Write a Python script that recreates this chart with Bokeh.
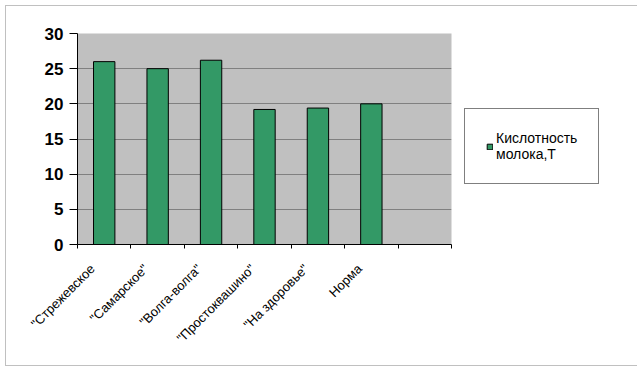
import math
from bokeh.plotting import figure
from bokeh.models import (Range1d, FixedTicker, Legend, LegendItem, ColumnDataSource)
from bokeh.embed import file_html
from bokeh.resources import INLINE

categories = ['"Стрежевское', '"Самарское"', '"Волга-волга"', '"Простоквашино"',
              '"На здоровье"', 'Норма']
values = [26.0, 25.0, 26.2, 19.2, 19.4, 20.0]
y_ticks = [0, 5, 10, 15, 20, 25, 30]
series_name = "Кислотность\nмолока,Т"
n_slots = 7

xs = [i + 0.5 for i in range(len(categories))]
src = ColumnDataSource(dict(x=xs, top=values, name=categories))

p = figure(frame_width=374, frame_height=211,
           min_border_left=71, min_border_right=179,
           min_border_top=27, min_border_bottom=121,
           x_range=Range1d(0, n_slots), y_range=Range1d(0, 30),
           output_backend="svg", toolbar_location=None)
p.margin = (5, 0, 0, 5)
p.styles = {"border": "1px solid #C0C0C0"}

p.background_fill_color = "#C0C0C0"
p.border_fill_color = "white"
p.outline_line_color = None

r = p.vbar(x="x", top="top", width=0.4, bottom=0, source=src,
           fill_color="#339966", line_color="black", line_width=1)

# y axis
p.yaxis.ticker = FixedTicker(ticks=y_ticks)
p.yaxis.axis_line_color = "black"
p.yaxis.major_tick_line_color = "black"
p.yaxis.major_tick_out = 8
p.yaxis.major_tick_in = 0
p.yaxis.minor_tick_line_color = None
p.yaxis.major_label_text_font = "Liberation Sans"
p.yaxis.major_label_text_font_style = "bold"
p.yaxis.major_label_text_font_size = "17px"
p.yaxis.major_label_text_color = "black"
p.yaxis.major_label_standoff = 6

# x axis: labels near category centres, tick marks at boundaries
label_pos = [round(x - 0.22, 2) for x in xs]
p.xaxis.ticker = FixedTicker(ticks=label_pos, minor_ticks=list(range(n_slots + 1)))
p.xaxis.major_label_overrides = {lp: c for lp, c in zip(label_pos, categories)}
p.xaxis.major_tick_line_color = None
p.xaxis.minor_tick_line_color = "black"
p.xaxis.minor_tick_out = 4
p.xaxis.minor_tick_in = 0
p.xaxis.axis_line_color = "black"
p.xaxis.major_label_orientation = math.pi / 4
p.xaxis.major_label_text_font = "Liberation Sans"
p.xaxis.major_label_text_font_size = "13px"
p.xaxis.major_label_text_color = "black"
p.xaxis.major_label_standoff = 16

p.xgrid.grid_line_color = None
p.ygrid.ticker = FixedTicker(ticks=[5, 10, 15, 20, 25])
p.ygrid.grid_line_color = "#808080"
p.ygrid.grid_line_width = 1

legend = Legend(items=[LegendItem(label=series_name, renderers=[r])],
                location=(13, 60), orientation="vertical")
legend.border_line_color = "black"
legend.border_line_width = 1
legend.background_fill_color = "white"
legend.background_fill_alpha = 1
legend.label_text_font = "Liberation Sans"
legend.label_text_font_size = "14px"
legend.label_text_color = "black"
legend.glyph_width = 7
legend.glyph_height = 7
legend.label_standoff = 3
legend.padding = 21
legend.margin = 0
p.add_layout(legend, "right")

open("out.html", "w").write(file_html(p, INLINE))
